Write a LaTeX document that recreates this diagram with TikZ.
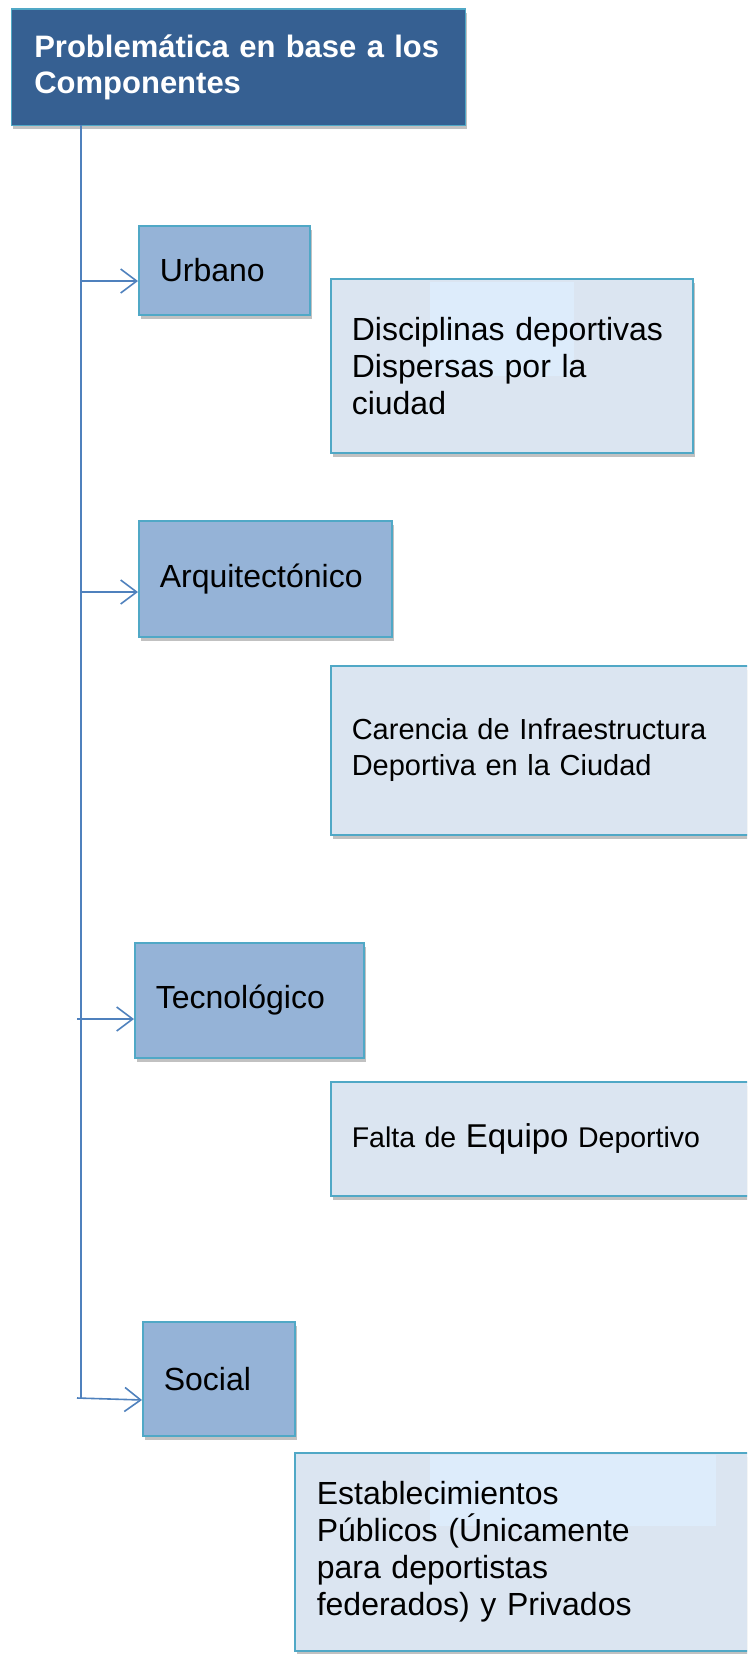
\documentclass[tikz,border=0pt]{standalone}
\usepackage{fontspec}
\setmainfont{Liberation Sans}
\usetikzlibrary{arrows.meta,shadows,calc}
\definecolor{hblue}{RGB}{54,96,146}
\definecolor{hmid}{RGB}{149,179,215}
\definecolor{hpale}{RGB}{219,229,241}
\definecolor{hglow}{RGB}{221,236,251}
\definecolor{hedge}{RGB}{80,168,198}
\definecolor{hline}{RGB}{79,129,189}
\tikzset{
  box/.style={draw=hedge,line width=1.6pt,anchor=north west,align=left,
    inner xsep=21pt,inner ysep=0pt,
    drop shadow={shadow xshift=2pt,shadow yshift=-4pt,opacity=0.35,fill=black!70}},
  head/.style={box,fill=hblue,text=white,inner xsep=23pt,
    font=\bfseries\fontsize{31}{36}\selectfont},
  comp/.style={box,fill=hmid,font=\fontsize{32}{37}\selectfont},
  prob/.style={box,fill=hpale,font=\fontsize{32}{37}\selectfont},
  glow/.style 2 args={path picture={\fill[hglow]
    ($(path picture bounding box.north west)+#1$) rectangle
    ($(path picture bounding box.north west)+#2$);}},
  link/.style={hline,line width=1.6pt,
    -{Straight Barb[length=16pt,width=24pt,line width=1.6pt]}}
}
\newcommand{\tap}[2]{\coordinate (#1) at (#2);}

\begin{document}
\begin{tikzpicture}[x=1pt,y=-1pt]
  \useasboundingbox (0,0) rectangle (747,1654);
  \clip (0,0) rectangle (747,1654);
  % title
  \node[head,text width=408,minimum height=116] (title) at (10.5,8.5)
    {\mbox{Problemática en base a los}\\Componentes};
  % components
  \node[comp,text width=129,minimum height=89] (urb) at (138,225) {Urbano};
  \node[comp,text width=211,minimum height=116] (arq) at (138,520) {Arquitectónico};
  \node[comp,text width=187,minimum height=115] (tec) at (134,942) {Tecnológico};
  \node[comp,text width=110,minimum height=114] (soc) at (142,1321) {Social};
  % problems
  \node[prob,glow={(99,3)}{(243,97)},text width=320,minimum height=174] (p1) at (330,278)
    {Disciplinas deportivas\\Dispersas por la\\ciudad};
  \node[prob,text width=388,minimum height=169,font=\fontsize{29}{36}\selectfont] (p2) at (330,665)
    {Carencia de Infraestructura\\Deportiva en la Ciudad};
  \node[prob,text width=388,minimum height=114,font=\fontsize{28.5}{36}\selectfont] (p3) at (330,1081)
    {Falta de {\fontsize{33}{36}\selectfont Equipo} Deportivo};
  \node[prob,glow={(135,2)}{(421,73)},text width=422,minimum height=198,inner xsep=22pt] (p4) at (294,1452)
    {Establecimientos\\Públicos (Únicamente\\para deportistas\\federados) y Privados};
  % trunk and branches
  \tap{top}{81,124.5}
  \tap{bot}{81,1398}
  \tap{t1}{81,281}
  \tap{t2}{81,592}
  \tap{t3}{77,1019}
  \tap{t4}{77,1398}
  \draw[hline,line width=1.6pt] (top) -- (bot);
  \draw[link] (t1) -- (t1 -| urb.west);
  \draw[link] (t2) -- (t2 -| arq.west);
  \draw[link] (t3) -- (t3 -| tec.west);
  \draw[link] (t4) -- ([yshift=-2pt]t4 -| soc.west);
\end{tikzpicture}
\end{document}
